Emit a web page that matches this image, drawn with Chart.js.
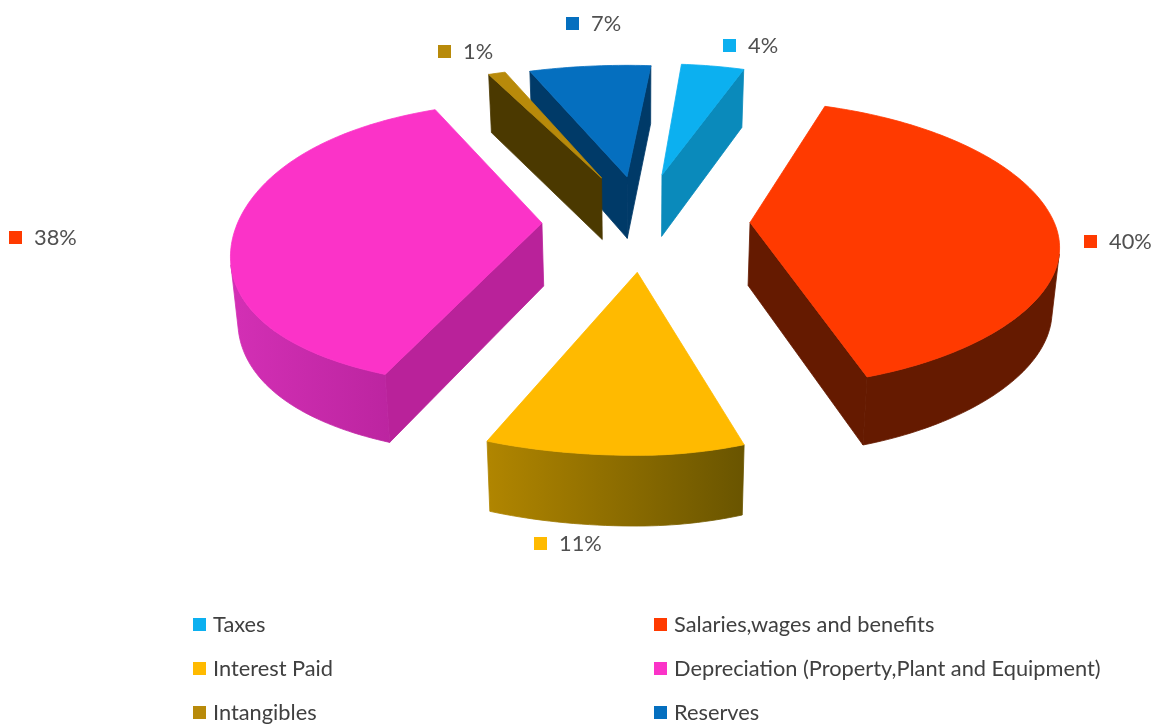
<!DOCTYPE html>
<html>
<head>
<meta charset="utf-8">
<title>Expense breakdown</title>
<script src="https://cdn.jsdelivr.net/npm/chart.js@4"></script>
<style>
    html, body { margin: 0; background: #fff; }
    canvas { display: block; }
</style>
</head>
<body>
<canvas id="pieChart" width="1156" height="725"></canvas>
<script>
const categories = ['Taxes', 'Salaries,wages and benefits', 'Interest Paid', 'Depreciation (Property,Plant and Equipment)', 'Intangibles', 'Reserves'];
const values = [4, 40, 11, 38, 1, 7];

const sliceOffsets = [110, 110, 104, 98, 108, 104];
const topColors = ['#0cb0f0', '#ff3a00', '#ffba00', '#fb33c8', '#b88a0a', '#056fbf'];
const wallColors = ['#0a8abb', '#651a00', '#7c6200', '#b9229a', '#4b3900', '#003a68'];
const rimColors = [['#0a8abb', '#0a8abb'], ['#651a00', '#651a00'], ['#b08500', '#6a5500'], ['#d22fb4', '#b5219a'], ['#4b3900', '#4b3900'], ['#0564ad', '#0564ad']];

// the 38% key is red in this layout, not the slice colour
const labelKeyColors = ['#0cb0f0', '#ff3a00', '#ffba00', '#ff3a00', '#b88a0a', '#056fbf'];
const labelAnchors = [[723, 45], [1084, 241], [534, 543], [9, 237], [438, 51], [566, 23]];
const legendAnchors = [[193, 624], [654, 624], [193, 668], [654, 668], [193, 712], [654, 712]];

// perspective of the pie plane
const tilt = 0.46;
const perspective = 0.00048;
const thickness = 63;
const bottomShrink = 0.982;
const leftFlare = 0.07;
const nearRightPinch = 0.05;

function project(arc, u, v, dropped) {
    const s = 1 / (1 + perspective * v);
    // left half spreads towards the far and near edges, near right pulls in
    const depth = v / arc.outerRadius;
    let spread = u;
    if (u < 0) spread = u * (1 + leftFlare * depth * depth);
    else if (v < 0) spread = u * (1 - nearRightPinch * depth * depth);
    let x = arc.x + spread * s;
    let y = arc.y - tilt * v * s;
    if (dropped) {
        x = arc.x + (x - arc.x) * bottomShrink;
        y += thickness * (1 + (s - 1) * 0.5);
    }
    return { x, y };
}

function polygonArea(pts) {
    let sum = 0;
    pts.forEach((p, i) => {
        const q = pts[(i + 1) % pts.length];
        sum += p.x * q.y - q.x * p.y;
    });
    return sum / 2;
}

function fillPolygon(ctx, pts, fill) {
    ctx.beginPath();
    pts.forEach((p, i) => (i ? ctx.lineTo(p.x, p.y) : ctx.moveTo(p.x, p.y)));
    ctx.closePath();
    ctx.fillStyle = fill;
    ctx.strokeStyle = fill;
    ctx.lineWidth = 0.8;
    ctx.fill();
    ctx.stroke();
}

function drawWall(ctx, a, b, a2, b2, fill) {
    const quad = [a, b, b2, a2];
    if (polygonArea(quad) < 0) fillPolygon(ctx, quad, fill);
}

function drawSlice(ctx, arc, i) {
    const { startAngle, endAngle, outerRadius } = arc.getProps(['startAngle', 'endAngle', 'outerRadius'], true);
    const mid = (startAngle + endAngle) / 2;
    const du = Math.cos(mid) * arc.options.offset;
    const dv = -Math.sin(mid) * arc.options.offset;

    const steps = Math.max(2, Math.ceil((endAngle - startAngle) / 0.02));
    const rimTop = [];
    const rimBottom = [];
    for (let k = 0; k <= steps; k++) {
        const a = startAngle + (endAngle - startAngle) * k / steps;
        const u = du + outerRadius * Math.cos(a);
        const v = dv - outerRadius * Math.sin(a);
        rimTop.push(project(arc, u, v, false));
        rimBottom.push(project(arc, u, v, true));
    }
    const apexTop = project(arc, du, dv, false);
    const apexBottom = project(arc, du, dv, true);

    // radial walls
    drawWall(ctx, apexTop, rimTop[0], apexBottom, rimBottom[0], wallColors[i]);
    drawWall(ctx, rimTop[steps], apexTop, rimBottom[steps], apexBottom, wallColors[i]);

    // curved outer wall, shaded left to right; front facing runs are filled whole
    const xs = rimBottom.map(p => p.x);
    const shade = ctx.createLinearGradient(Math.min(...xs), 0, Math.max(...xs), 0);
    shade.addColorStop(0, rimColors[i][0]);
    shade.addColorStop(1, rimColors[i][1]);
    let runStart = -1;
    for (let k = 0; k <= steps; k++) {
        const facing = k < steps && polygonArea([rimTop[k], rimTop[k + 1], rimBottom[k + 1], rimBottom[k]]) < 0;
        if (facing && runStart < 0) runStart = k;
        if (!facing && runStart >= 0) {
            const top = rimTop.slice(runStart, k + 1);
            const bottom = rimBottom.slice(runStart, k + 1).reverse();
            fillPolygon(ctx, top.concat(bottom), shade);
            runStart = -1;
        }
    }

    fillPolygon(ctx, [apexTop, ...rimTop], topColors[i]);
}

const extrudedPie = {
    id: 'extrudedPie',
    beforeDatasetDraw(chart) {
        const ctx = chart.ctx;
        const arcs = chart.getDatasetMeta(0).data;
        const depthOf = arc => Math.sin((arc.startAngle + arc.endAngle) / 2);
        const order = arcs.map((arc, i) => i).sort((a, b) => depthOf(arcs[a]) - depthOf(arcs[b]));
        ctx.save();
        order.forEach(i => drawSlice(ctx, arcs[i], i));
        ctx.restore();
        return false;
    }
};

const keyedText = {
    id: 'keyedText',
    afterDraw(chart) {
        const ctx = chart.ctx;
        ctx.save();
        ctx.textBaseline = 'middle';
        ctx.textAlign = 'left';
        ctx.font = '21.8px Lato';

        // value labels next to the slices
        values.forEach((value, i) => {
            const [x, y] = labelAnchors[i];
            ctx.fillStyle = labelKeyColors[i];
            ctx.fillRect(x, y - 6, 13, 13);
            ctx.fillStyle = '#505050';
            ctx.fillText(value + '%', x + 25, y + 1);
        });

        // two column legend
        categories.forEach((name, i) => {
            const [x, y] = legendAnchors[i];
            ctx.fillStyle = topColors[i];
            ctx.fillRect(x, y - 6, 13, 13);
            ctx.fillStyle = '#404040';
            ctx.fillText(name, x + 20, y + 1);
        });
        ctx.restore();
    }
};

new Chart(document.getElementById('pieChart').getContext('2d'), {
    type: 'pie',
    data: {
        labels: categories,
        datasets: [{
            data: values,
            backgroundColor: topColors,
            borderWidth: 0,
            offset: sliceOffsets
        }]
    },
    options: {
        responsive: false,
        animation: false,
        rotation: 5,
        radius: 304,
        layout: { padding: { left: 124, right: 0, top: 0, bottom: 281 } },
        plugins: {
            legend: { display: false },
            tooltip: { enabled: false }
        }
    },
    plugins: [extrudedPie, keyedText]
});
</script>
</body>
</html>
